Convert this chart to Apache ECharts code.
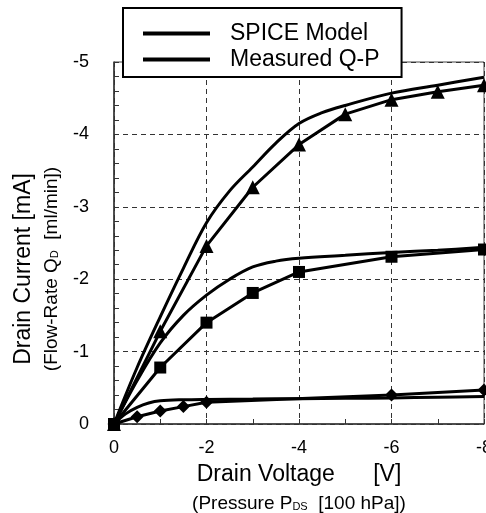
<!DOCTYPE html>
<html>
<head>
<meta charset="utf-8">
<script src="https://cdn.jsdelivr.net/npm/echarts@6/dist/echarts.min.js"></script>
<style>
  html, body { margin: 0; padding: 0; background: #fff; }
  #chart { width: 486px; height: 513px; }
</style>
</head>
<body>
<div id="chart"></div>
<script>
// ---- Data (drain voltage V, drain current mA) ----
const spiceHighX = [0, -0.5, -1, -1.5, -2, -2.5, -3, -3.5, -4, -4.5, -5, -6, -7, -8];
const spiceHighY = [0, -0.78, -1.48, -2.15, -2.78, -3.22, -3.55, -3.88, -4.15, -4.3, -4.4, -4.57, -4.68, -4.79];

const spiceMidX = [0, -0.5, -1, -1.5, -2, -2.5, -3, -3.5, -4, -5, -6, -7, -8];
const spiceMidY = [0, -0.6, -1.12, -1.5, -1.78, -2.0, -2.17, -2.25, -2.29, -2.33, -2.37, -2.4, -2.44];

const spiceLowX = [0, -0.25, -0.5, -0.75, -1, -1.5, -2, -3, -4, -5, -6, -7, -8];
const spiceLowY = [0, -0.14, -0.23, -0.29, -0.32, -0.335, -0.34, -0.345, -0.35, -0.355, -0.36, -0.37, -0.38];

const measTriX = [0, -1, -2, -3, -4, -5, -6, -7, -8];
const measTriY = [0, -1.28, -2.46, -3.27, -3.86, -4.28, -4.48, -4.59, -4.68];

const measSqX = [0, -1, -2, -3, -4, -6, -8];
const measSqY = [0, -0.78, -1.4, -1.81, -2.1, -2.31, -2.41];

const measDiaX = [0, -0.5, -1, -1.5, -2, -6, -8];
const measDiaY = [0, -0.1, -0.18, -0.24, -0.3, -0.4, -0.47];

const legendNames = ['SPICE Model', 'Measured Q-P'];
const xTitle1 = 'Drain Voltage      [V]';
const xTitle2a = '(Pressure P', xTitle2sub = 'DS', xTitle2b = '  [100 hPa])';
const yTitle1 = 'Drain Current [mA]';
const yTitle2a = '(Flow-Rate Q', yTitle2sub = 'D', yTitle2b = '  [ml/min])';

const FONT = '"Liberation Sans", Arial, Helvetica, sans-serif';
const pair = (xs, ys) => xs.map((x, i) => [x, ys[i]]);

const chart = echarts.init(document.getElementById('chart'), null, { renderer: 'canvas' });

const spiceSeries = (xs, ys) => ({
  name: legendNames[0], type: 'line', data: pair(xs, ys),
  smooth: 0.35, showSymbol: false, symbol: 'none',
  lineStyle: { color: '#000', width: 3 }, itemStyle: { color: '#000' },
  z: 3
});
const measSeries = (xs, ys, sym, size) => ({
  name: legendNames[1], type: 'line', data: pair(xs, ys),
  symbol: sym, symbolSize: size, showAllSymbol: true,
  lineStyle: { color: '#000', width: 3 }, itemStyle: { color: '#000', borderWidth: 0 },
  z: 4
});

const sub = { fontFamily: FONT, fontSize: 11, color: '#000', padding: [5, 0, 0, 0] };

chart.setOption({
  animation: false,
  backgroundColor: '#fff',
  textStyle: { fontFamily: FONT, color: '#000' },
  grid: {
    left: 114, right: 2, top: 62, bottom: 89,
    containLabel: false, outerBoundsMode: 'none',
    show: true, borderColor: '#444', borderWidth: 1, backgroundColor: 'transparent'
  },
  legend: {
    data: legendNames,
    orient: 'vertical',
    left: 123, top: 8,
    padding: [14, 22, 6, 20],
    itemGap: 3,
    itemWidth: 67, itemHeight: 4,
    icon: 'rect',
    backgroundColor: '#fff',
    borderColor: '#000', borderWidth: 2,
    textStyle: { fontFamily: FONT, fontSize: 23, color: '#000', padding: [0, 0, 0, 15] },
    selectedMode: false,
    z: 10
  },
  xAxis: {
    type: 'value', min: -8, max: 0, interval: 2, inverse: true,
    axisLine: { show: true, lineStyle: { color: '#333', width: 1.5 } },
    axisTick: { show: true, inside: true, length: 5, lineStyle: { color: '#333' } },
    minorTick: { show: true, splitNumber: 2, length: 5, lineStyle: { color: '#333' } },
    splitLine: { show: true, lineStyle: { color: '#333', type: [5, 4], width: 1 } },
    axisLabel: { fontFamily: FONT, fontSize: 18, color: '#000', margin: 15 },
    name: '{a|' + xTitle1 + '}\n{b|' + xTitle2a + '}{s|' + xTitle2sub + '}{b|' + xTitle2b + '}',
    nameLocation: 'middle', nameGap: 37,
    nameTextStyle: {
      rich: {
        a: { fontFamily: FONT, fontSize: 23, lineHeight: 28, color: '#000' },
        b: { fontFamily: FONT, fontSize: 19, lineHeight: 30, color: '#000' },
        s: Object.assign({ lineHeight: 30 }, sub)
      }
    }
  },
  yAxis: {
    type: 'value', min: -5, max: 0, interval: 1, inverse: true,
    axisLine: { show: true, lineStyle: { color: '#333', width: 1.5 } },
    axisTick: { show: true, inside: true, length: 5, lineStyle: { color: '#333' } },
    minorTick: { show: true, splitNumber: 5, length: 5, lineStyle: { color: '#333' } },
    splitLine: { show: true, lineStyle: { color: '#333', type: [5, 4], width: 1 } },
    axisLabel: { fontFamily: FONT, fontSize: 18, color: '#000', margin: 25 },
    name: '{a|' + yTitle1 + '}\n{b|' + yTitle2a + '}{s|' + yTitle2sub + '}{b|' + yTitle2b + '}',
    nameLocation: 'middle', nameRotate: 90, nameGap: 48,
    nameTextStyle: {
      padding: [0, 52, 0, 0],
      rich: {
        a: { fontFamily: FONT, fontSize: 23, lineHeight: 28, color: '#000' },
        b: { fontFamily: FONT, fontSize: 19, lineHeight: 28, color: '#000' },
        s: Object.assign({ lineHeight: 28 }, sub)
      }
    }
  },
  series: [
    spiceSeries(spiceHighX, spiceHighY),
    spiceSeries(spiceMidX, spiceMidY),
    spiceSeries(spiceLowX, spiceLowY),
    measSeries(measTriX, measTriY, 'triangle', 14),
    measSeries(measDiaX, measDiaY, 'diamond', 13),
    measSeries(measSqX, measSqY, 'rect', 12)
  ]
});
</script>
</body>
</html>
